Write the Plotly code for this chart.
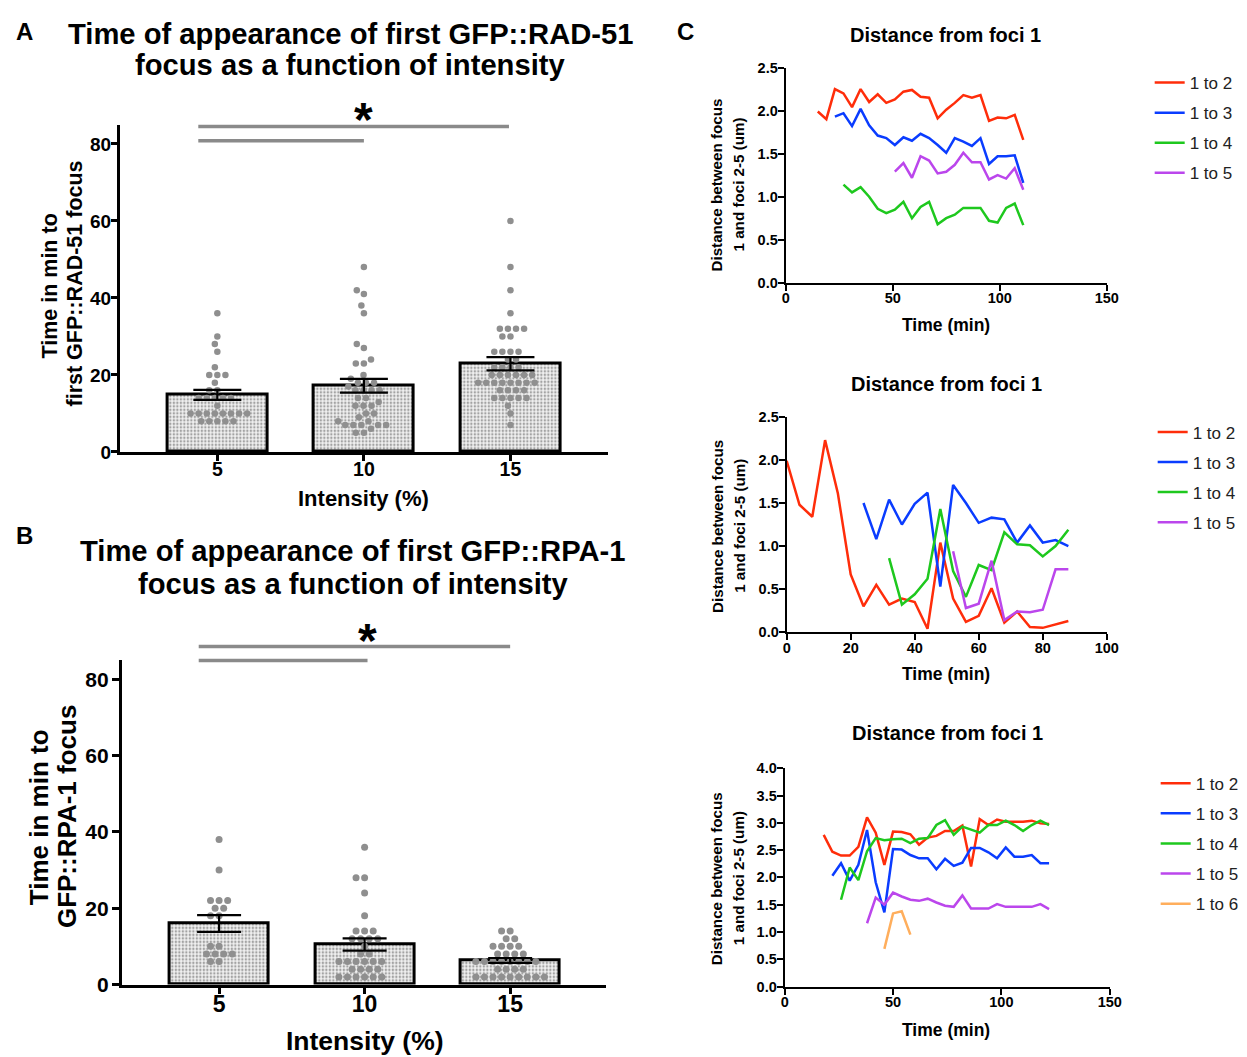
import numpy as np
import plotly.graph_objects as go

W, H = 1247, 1057
FONT = "Liberation Sans, Arial, sans-serif"
# measured mapping between figure pixels and the photographed page
KX, PX0 = 0.99, 9.1
KY, PY0 = 0.981, 16.5

# ---------------- Panel A / B data ----------------
intensity = ["5", "10", "15"]

a_means = [14.8, 17.2, 22.9]
a_sem = [1.3, 1.8, 1.7]
a_pts_5 = [36, 30, 28, 26, 22, 20, 20, 20, 18, 16, 16, 14, 14, 14, 14, 14, 12,
           10, 10, 10, 10, 10, 10, 10, 10, 8, 8, 8, 8, 8]
a_pts_10 = [48, 42, 41, 38, 36, 28, 27, 24, 23, 23, 20, 19, 18, 18, 18, 17, 16, 16,
            16, 16, 14, 14, 13, 12, 12, 12, 10, 10, 9, 8, 8, 7, 7, 7, 7, 7, 6, 5, 5]
a_pts_15 = [60, 48, 42, 36, 32, 32, 32, 32, 30, 30, 26, 26, 26, 26, 24, 24, 22, 22,
            22, 22, 20, 20, 20, 20, 20, 20, 18, 18, 18, 18, 18, 18, 18, 18, 16, 16,
            16, 16, 14, 14, 14, 14, 14, 12, 10, 7]

b_means = [16.0, 10.5, 6.3]
b_sem = [2.2, 1.6, 0.65]
b_pts_5 = [38, 30, 22, 22, 22, 20, 20, 18, 18, 10, 10, 8, 8, 8, 8, 6, 6]
b_pts_10 = [36, 28, 28, 24, 18, 14, 14, 14, 12, 12, 12, 12, 10, 8, 8, 6, 6, 6, 6, 6, 6,
            4, 4, 4, 4, 2, 2, 2, 2, 2, 2]
b_pts_15 = [14, 14, 12, 12, 10, 10, 10, 10, 8, 8, 8, 8, 6, 6, 6, 6, 6, 6, 6, 6,
            4, 4, 4, 4, 2, 2, 2, 2, 2, 2, 2, 2, 2]

# ---------------- Panel C data ----------------
c_labels = ["1 to 2", "1 to 3", "1 to 4", "1 to 5", "1 to 6"]
c_colors = ["#FF2D0A", "#0A3CFF", "#1EC81E", "#BB46EC", "#FFAE5C"]

c1_t_12 = [15, 19, 23, 27, 31, 35, 39, 43, 47, 51, 55, 59, 63, 67, 71, 75, 79, 83, 87, 91, 95, 99, 103, 107, 111]
c1_y_12 = [1.99, 1.90, 2.25, 2.20, 2.04, 2.25, 2.10, 2.19, 2.09, 2.13, 2.22, 2.24, 2.16, 2.15, 1.91, 2.01,
           2.09, 2.18, 2.15, 2.18, 1.88, 1.92, 1.91, 1.95, 1.66]
c1_t_13 = [23, 27, 31, 35, 39, 43, 47, 51, 55, 59, 63, 67, 71, 75, 79, 83, 87, 91, 95, 99, 103, 107, 111]
c1_y_13 = [1.93, 1.97, 1.82, 2.02, 1.83, 1.71, 1.68, 1.60, 1.69, 1.65, 1.73, 1.68, 1.60, 1.51, 1.68, 1.64,
           1.59, 1.68, 1.38, 1.47, 1.47, 1.48, 1.16]
c1_t_14 = [27, 31, 35, 39, 43, 47, 51, 55, 59, 63, 67, 71, 75, 79, 83, 87, 91, 95, 99, 103, 107, 111]
c1_y_14 = [1.14, 1.05, 1.11, 1.00, 0.86, 0.81, 0.85, 0.94, 0.75, 0.88, 0.94, 0.68, 0.75, 0.79, 0.87, 0.87,
           0.87, 0.72, 0.70, 0.87, 0.92, 0.67]
c1_t_15 = [51, 55, 59, 63, 67, 71, 75, 79, 83, 87, 91, 95, 99, 103, 107, 111]
c1_y_15 = [1.29, 1.39, 1.22, 1.47, 1.42, 1.27, 1.29, 1.37, 1.51, 1.40, 1.40, 1.20, 1.25, 1.21, 1.33, 1.08]

c2_t_12 = [0, 4, 8, 12, 16, 20, 24, 28, 32, 36, 40, 44, 48, 52, 56, 60, 64, 68, 72, 76, 80, 84, 88]
c2_y_12 = [1.99, 1.48, 1.34, 2.23, 1.61, 0.67, 0.30, 0.55, 0.32, 0.39, 0.35, 0.04, 1.04, 0.39, 0.12, 0.19,
           0.51, 0.11, 0.24, 0.06, 0.05, 0.09, 0.13]
c2_t_13 = [24, 28, 32, 36, 40, 44, 48, 52, 56, 60, 64, 68, 72, 76, 80, 84, 88]
c2_y_13 = [1.50, 1.08, 1.54, 1.25, 1.49, 1.62, 0.53, 1.71, 1.50, 1.27, 1.33, 1.31, 1.04, 1.24, 1.04, 1.07, 1.00]
c2_t_14 = [32, 36, 40, 44, 48, 52, 56, 60, 64, 68, 72, 76, 80, 84, 88]
c2_y_14 = [0.86, 0.32, 0.44, 0.62, 1.43, 0.71, 0.41, 0.78, 0.72, 1.16, 1.02, 1.01, 0.88, 1.00, 1.19]
c2_t_15 = [52, 56, 60, 64, 68, 72, 76, 80, 84, 88]
c2_y_15 = [0.94, 0.28, 0.33, 0.83, 0.14, 0.24, 0.23, 0.26, 0.73, 0.73]

c3_t_12 = [18, 22, 26, 30, 34, 38, 42, 46, 50, 54, 58, 62, 66, 70, 74, 78, 82, 86, 90, 94, 98, 102, 106,
           110, 114, 118, 122]
c3_y_12 = [2.78, 2.47, 2.40, 2.40, 2.56, 3.10, 2.82, 2.23, 2.84, 2.83, 2.79, 2.60, 2.73, 2.76, 2.85, 2.85,
           2.95, 2.20, 3.07, 2.96, 3.06, 3.02, 3.02, 3.02, 3.04, 2.99, 2.98]
c3_t_13 = [22, 26, 30, 34, 38, 42, 46, 50, 54, 58, 62, 66, 70, 74, 78, 82, 86, 90, 94, 98, 102, 106,
           110, 114, 118, 122]
c3_y_13 = [2.03, 2.26, 1.94, 2.23, 2.87, 1.91, 1.36, 2.52, 2.51, 2.41, 2.35, 2.35, 2.15, 2.34, 2.21, 2.27,
           2.54, 2.54, 2.46, 2.35, 2.55, 2.38, 2.38, 2.41, 2.26, 2.26]
c3_t_14 = [26, 30, 34, 38, 42, 46, 50, 54, 58, 62, 66, 70, 74, 78, 82, 86, 90, 94, 98, 102, 106,
           110, 114, 118, 122]
c3_y_14 = [1.59, 2.18, 1.95, 2.48, 2.72, 2.68, 2.70, 2.71, 2.63, 2.71, 2.72, 2.96, 3.05, 2.78, 2.93, 2.87,
           2.82, 2.96, 2.96, 3.04, 2.96, 2.85, 2.96, 3.04, 2.96]
c3_t_15 = [38, 42, 46, 50, 54, 58, 62, 66, 70, 74, 78, 82, 86, 90, 94, 98, 102, 106, 110, 114, 118, 122]
c3_y_15 = [1.16, 1.63, 1.50, 1.72, 1.65, 1.59, 1.57, 1.61, 1.54, 1.48, 1.46, 1.67, 1.43, 1.43, 1.43, 1.51,
           1.46, 1.46, 1.46, 1.46, 1.51, 1.42]
c3_t_16 = [46, 50, 54, 58]
c3_y_16 = [0.69, 1.34, 1.38, 0.95]


# ---------------- helpers ----------------
def swarm(vals, px_per_unit, px_per_cat, diam):
    """Beeswarm x-offsets (in category units) computed from the values."""
    vals = np.asarray(vals, dtype=float)
    order = np.argsort(vals, kind="stable")
    placed = []
    offs = np.zeros(len(vals))
    for idx in order:
        y = vals[idx] * px_per_unit
        cands = [0.0]
        for xj, yj in placed:
            dy = y - yj
            if abs(dy) < diam:
                dx = np.sqrt(diam ** 2 - dy ** 2)
                cands += [xj + dx, xj - dx]
        cands.sort(key=lambda c: (round(abs(c), 6), c))
        chosen = cands[-1]
        for c in cands:
            if all((c - xj) ** 2 + (y - yj) ** 2 >= diam ** 2 - 1e-6 for xj, yj in placed):
                chosen = c
                break
        placed.append((chosen, y))
        offs[idx] = chosen / px_per_cat
    return offs


def fx(rx):  # reference x pixel -> paper x
    return ((rx - PX0) / KX) / W


def fy(ry):  # reference y pixel -> paper y
    return 1 - ((ry - PY0) / KY) / H


def px(rx, ry):
    return fx(rx), fy(ry)


def xdom(x0, x1):
    return [fx(x0), fx(x1)]


def ydom(top_px, bottom_px):
    return [fy(bottom_px), fy(top_px)]


fig = go.Figure()

bar_marker = dict(color="white", line=dict(color="black", width=3),
                  pattern=dict(shape=".", fgcolor="#555555", bgcolor="#f0f0f0", size=3.5, solidity=0.38))


def bar_panel(xa, ya, means, sem, groups, ppu, ppc, dot_size, cap):
    xs = [0, 1, 2]
    fig.add_trace(go.Bar(x=xs, y=means, width=0.68, marker=bar_marker, xaxis=xa, yaxis=ya,
                         showlegend=False, hoverinfo="skip"))
    for i, pts in enumerate(groups):
        offs = swarm(pts, ppu, ppc, dot_size + 1.6)
        fig.add_trace(go.Scatter(x=xs[i] + offs, y=pts, mode="markers", xaxis=xa, yaxis=ya,
                                 marker=dict(size=dot_size, color="#8f8f8f", line=dict(width=0)),
                                 showlegend=False, hoverinfo="skip"))
    fig.add_trace(go.Scatter(x=xs, y=means, mode="markers", xaxis=xa, yaxis=ya,
                             marker=dict(size=1, color="rgba(0,0,0,0)"),
                             error_y=dict(type="data", array=sem, color="black", thickness=2.2, width=cap),
                             showlegend=False, hoverinfo="skip"))


bar_panel("x", "y", a_means, a_sem, [a_pts_5, a_pts_10, a_pts_15], 3.85, 147, 6.5, 24)
bar_panel("x2", "y2", b_means, b_sem, [b_pts_5, b_pts_10, b_pts_15], 3.81, 146, 7, 22)

# C panels
c_sets = [
    ("x3", "y3", "legend", [(c1_t_12, c1_y_12), (c1_t_13, c1_y_13), (c1_t_14, c1_y_14), (c1_t_15, c1_y_15)]),
    ("x4", "y4", "legend2", [(c2_t_12, c2_y_12), (c2_t_13, c2_y_13), (c2_t_14, c2_y_14), (c2_t_15, c2_y_15)]),
    ("x5", "y5", "legend3", [(c3_t_12, c3_y_12), (c3_t_13, c3_y_13), (c3_t_14, c3_y_14), (c3_t_15, c3_y_15),
                             (c3_t_16, c3_y_16)]),
]
for xa, ya, lg, series in c_sets:
    for k, (t, y) in enumerate(series):
        fig.add_trace(go.Scatter(x=t, y=y, mode="lines", name=c_labels[k], xaxis=xa, yaxis=ya,
                                 line=dict(color=c_colors[k], width=2.5), legend=lg,
                                 legendgroup=lg + str(k)))

# ---------------- axes ----------------
bold = dict(family=FONT, color="black", weight="bold")


def axstyle(size, lw=2.5, tl=7, so=0):
    return dict(showline=True, linecolor="black", linewidth=lw, ticks="outside", tickcolor="black",
                tickwidth=lw, ticklen=tl, showgrid=False, zeroline=False, ticklabelstandoff=so,
                tickfont=dict(size=size, **bold), mirror=False, fixedrange=True)


lay = dict(
    width=W, height=H, margin=dict(l=0, r=0, t=0, b=0), autosize=False,
    paper_bgcolor="white", plot_bgcolor="white", font=dict(family=FONT, color="black"),
    bargap=0,
)
# A
lay["xaxis"] = dict(axstyle(19.5, 2.5, 6, -8), domain=xdom(117, 607), range=[-0.667, 2.667],
                    tickvals=[0, 1, 2], ticktext=intensity, anchor="y")
lay["yaxis"] = dict(axstyle(19, 2.5, 6, -4), domain=ydom(125, 452), range=[0, 85],
                    tickvals=[0, 20, 40, 60, 80], anchor="x")
# B
lay["xaxis2"] = dict(axstyle(23, 2.5, 7, -10), domain=xdom(119, 605), range=[-0.67, 2.66],
                     tickvals=[0, 1, 2], ticktext=intensity, anchor="y2")
lay["yaxis2"] = dict(axstyle(21, 2.5, 7, -1), domain=ydom(660, 984), range=[0, 85],
                     tickvals=[0, 20, 40, 60, 80], anchor="x2")
# C
c_axes = [(3, (785, 1107), (68, 283), [0, 150], 50, [0, 2.5]),
          (4, (786, 1107), (417, 632), [0, 100], 20, [0, 2.5]),
          (5, (784, 1110), (768, 986), [0, 150], 50, [0, 4.0])]
for n, (x0, x1), (t0, t1), xr, xd, yr in c_axes:
    lay[f"xaxis{n}"] = dict(axstyle(14.5, 2, 6, -5), domain=xdom(x0, x1), range=xr, dtick=xd,
                            anchor=f"y{n}")
    lay[f"yaxis{n}"] = dict(axstyle(14.5, 2, 6, -3), domain=ydom(t0, t1), range=yr, dtick=0.5,
                            tickformat=".1f", anchor=f"x{n}")

leg_common = dict(xanchor="left", yanchor="top", bgcolor="rgba(0,0,0,0)", borderwidth=0,
                  font=dict(family=FONT, size=17, color="#222"), tracegroupgap=5)


def legend_pos(line_start_px, first_center_px):
    x = ((line_start_px - PX0) / KX - 5) / W
    y = 1 - ((first_center_px - PY0) / KY - 17.9) / H
    return x, y


for name, (ls, fc) in [("legend", (1155, 83)), ("legend2", (1158, 432)), ("legend3", (1161, 783))]:
    lx, ly = legend_pos(ls, fc)
    lay[name] = dict(leg_common, x=lx, y=ly)
fig.update_layout(**lay)


# ---------------- text ----------------
def ann(text, pos, size, angle=0, weight="bold", yanchor="middle"):
    fig.add_annotation(text=text, x=pos[0], y=pos[1], xref="paper", yref="paper", showarrow=False,
                       textangle=angle, xanchor="center", yanchor=yanchor,
                       font=dict(family=FONT, size=size, color="black", weight=weight))


# panel letters at the very top are anchored to the top edge so they are not cut
ann("A", (fx(22), 1.0), 24, yanchor="top")
ann("B", px(22, 535), 24)
ann("C", (fx(685), 1.0), 24, yanchor="top")

ann("Time of appearance of first GFP::RAD-51", px(349, 34), 29.2)
ann("focus as a function of intensity", px(349, 65), 29.2)
ann("Time of appearance of first GFP::RPA-1", px(351, 551), 29.2)
ann("focus as a function of intensity", px(352, 584), 29.2)
ann("Intensity (%)", px(362, 498), 22)
ann("Intensity (%)", px(363, 1040), 26.5)
ann("Time in min to", px(47, 286), 21.5, angle=-90)
ann("first GFP::RAD-51 focus", px(72, 284), 21.5, angle=-90)
ann("Time in min to", px(37, 817), 26, angle=-90)
ann("GFP::RPA-1 focus", px(65, 816), 26, angle=-90)

for (cx, cy), (tx, ty), yy in [((945, 35), (946, 325), 185),
                               ((946, 384), (946, 674), 526),
                               ((947, 733), (946, 1029), 878)]:
    ann("Distance from foci 1", px(cx, cy), 20)
    ann("Time (min)", px(tx, ty), 17.5)
    ann("Distance between focus", px(716, yy), 15.2, angle=-90)
    ann("1 and foci 2-5 (um)", px(738, yy), 15.2, angle=-90)

# significance bars (x in category units, y in value units of each panel)
sig_A = [(-0.13, 1.99, 84.5), (-0.13, 1.0, 80.8)]
sig_B = [(-0.14, 2.0, 88.6), (-0.14, 1.02, 84.9)]
for (xa, ya, top, sigs) in [("x", "y", 85, sig_A), ("x2", "y2", 85, sig_B)]:
    for x0, x1, v in sigs:
        fig.add_shape(type="line", xref=xa, yref=ya + " domain", x0=x0, x1=x1, y0=v / top, y1=v / top,
                      line=dict(color="#8a8a8a", width=3.5))
for xa, xv, ypx in [("x", 1.0, 120), ("x2", 1.02, 640)]:
    fig.add_annotation(text="*", x=xv, xref=xa, y=fy(ypx), yref="paper", showarrow=False,
                       xanchor="center", yanchor="middle",
                       font=dict(family=FONT, size=48, color="black", weight="bold"))

fig.write_html("out.html")
